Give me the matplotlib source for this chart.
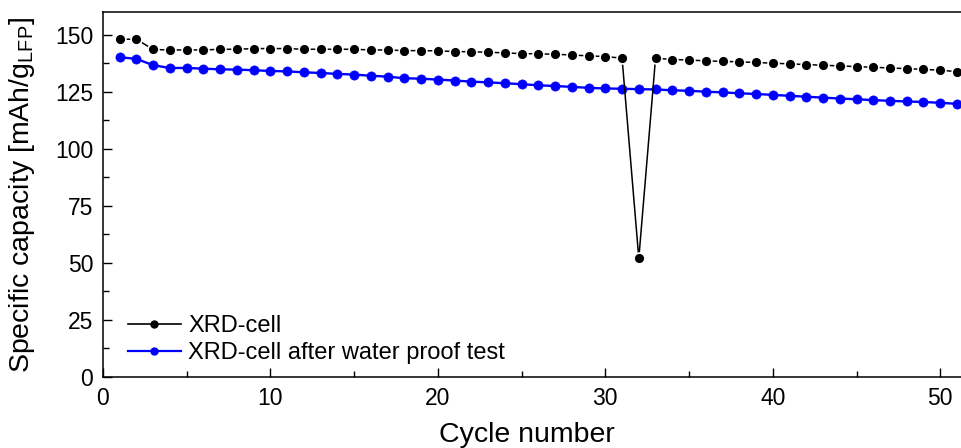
import matplotlib
matplotlib.use("Agg")
import matplotlib.pyplot as plt
from matplotlib.lines import Line2D
from matplotlib.ticker import MultipleLocator

plt.rcParams['font.family'] = ['Liberation Sans', 'DejaVu Sans']

cycles = [1, 2, 3, 4, 5, 6, 7, 8, 9, 10, 11, 12, 13, 14, 15, 16, 17, 18, 19, 20,
          21, 22, 23, 24, 25, 26, 27, 28, 29, 30, 31, 32, 33, 34, 35, 36, 37, 38, 39, 40,
          41, 42, 43, 44, 45, 46, 47, 48, 49, 50, 51]

xrd_cell = [148.1, 148.1, 143.6, 143.4, 143.4, 143.4, 143.7, 143.7, 144.0, 144.0,
            144.0, 143.7, 143.7, 143.7, 143.7, 143.4, 143.4, 143.1, 143.1, 143.0,
            142.7, 142.6, 142.4, 142.1, 141.8, 141.7, 141.5, 141.2, 140.8, 140.5,
            139.8, 52.0, 139.8, 139.2, 139.0, 138.6, 138.4, 138.2, 137.9, 137.6,
            137.3, 137.0, 136.7, 136.4, 136.1, 135.8, 135.5, 135.2, 134.9, 134.5, 133.9]

xrd_cell_water = [140.2, 139.5, 136.7, 135.5, 135.5, 135.2, 134.9, 134.8, 134.5, 134.2,
                  134.0, 133.6, 133.3, 132.9, 132.6, 132.1, 131.7, 131.0, 130.8, 130.4,
                  130.0, 129.5, 129.2, 128.8, 128.4, 127.9, 127.6, 127.2, 126.8, 126.5,
                  126.4, 126.2, 126.1, 125.7, 125.5, 125.1, 124.8, 124.4, 124.1, 123.7,
                  123.3, 122.9, 122.5, 122.1, 121.8, 121.4, 121.1, 120.8, 120.6, 120.2, 119.8]

labels = ["XRD-cell", "XRD-cell after water proof test"]

fig = plt.figure(figsize=(9.62, 4.48), dpi=100)
ax = fig.add_axes([0.107, 0.1585, 0.893, 0.8145])

ax.plot(cycles, xrd_cell_water, color='#0000ff', lw=1.7, marker='o',
        markersize=6.6, markeredgecolor='#0000ff', markeredgewidth=0.5, zorder=2)
ax.plot(cycles, xrd_cell, color='black', lw=1.1, marker='o',
        markersize=7.8, markerfacecolor='black', markeredgecolor='white',
        markeredgewidth=1.2, zorder=3)

ax.set_xlim(0, 51.3)
ax.set_ylim(0, 160)
ax.xaxis.set_major_locator(MultipleLocator(10))
ax.xaxis.set_minor_locator(MultipleLocator(5))
ax.yaxis.set_major_locator(MultipleLocator(25))
ax.yaxis.set_minor_locator(MultipleLocator(12.5))

ax.tick_params(which='both', direction='in', top=False, right=False,
               width=1.0, labelsize=16.5, pad=7)
ax.tick_params(which='major', length=6.5)
ax.tick_params(which='minor', length=4)
ax.spines['right'].set_visible(False)
for s in ['left', 'bottom', 'top']:
    ax.spines[s].set_linewidth(1.1)

ax.set_ylabel(r'Specific capacity [mAh/g$_{\mathregular{LFP}}$]', fontsize=20.5)
ax.yaxis.set_label_coords(-0.077, 0.5)
ax.set_xlabel('Cycle number', fontsize=20.5, va='top')
ax.xaxis.set_label_coords(0.494, -0.122)

handles = [Line2D([], [], color='black', lw=1.2, marker='o', markersize=5),
           Line2D([], [], color='#0000ff', lw=1.6, marker='o', markersize=5)]
ax.legend(handles, labels, loc='lower left', bbox_to_anchor=(0.029, 0.035),
          frameon=False, fontsize=17, handlelength=2.25, handletextpad=0.3,
          labelspacing=0.2, borderpad=0, borderaxespad=0)

fig.savefig('out.png', dpi=100)
